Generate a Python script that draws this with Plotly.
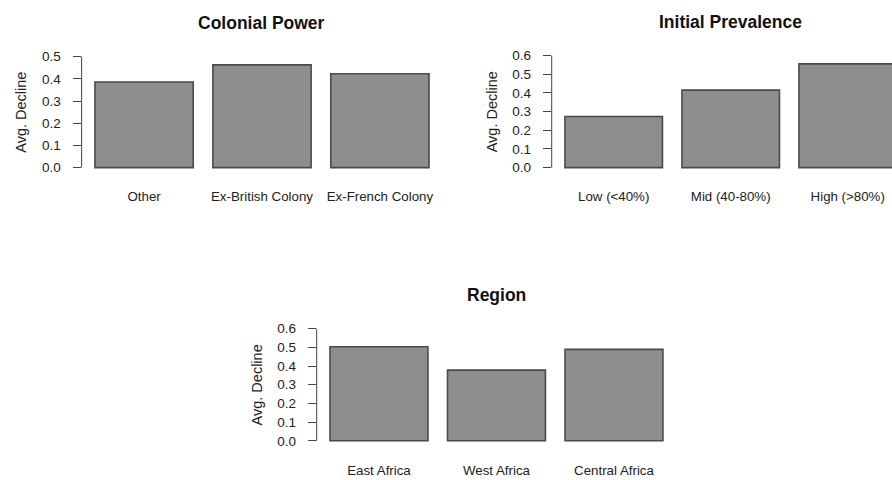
import plotly.graph_objects as go

# Average decline by grouping variable
colonial_cats = ["Other", "Ex-British Colony", "Ex-French Colony"]
colonial_vals = [0.386, 0.463, 0.423]

prev_cats = ["Low (<40%)", "Mid (40-80%)", "High (>80%)"]
prev_vals = [0.274, 0.415, 0.556]

region_cats = ["East Africa", "West Africa", "Central Africa"]
region_vals = [0.503, 0.378, 0.489]

ticks_05 = [0.0, 0.1, 0.2, 0.3, 0.4, 0.5]
ticks_06 = [0.0, 0.1, 0.2, 0.3, 0.4, 0.5, 0.6]

W, H = 892, 480
FONT = "Liberation Sans, Arial, Helvetica, sans-serif"
TXT = "#222222"
AX = "#444444"

# panel geometry in pixels: left edge, px per category, top/bottom of plot area
panels = [
    dict(title="Colonial Power", cats=colonial_cats, vals=colonial_vals, ticks=ticks_05,
         left=81.6, step=117.9, top=49.8, bottom=171.2),
    dict(title="Initial Prevalence", cats=prev_cats, vals=prev_vals, ticks=ticks_06,
         left=551.7, step=117.0, top=48.8, bottom=171.2),
    dict(title="Region", cats=region_cats, vals=region_vals, ticks=ticks_06,
         left=316.7, step=117.5, top=325.2, bottom=447.9),
]

fig = go.Figure()
shapes, annotations = [], []
layout = {}

for i, p in enumerate(panels, start=1):
    xa = "x" if i == 1 else f"x{i}"
    ya = "y" if i == 1 else f"y{i}"
    fig.add_trace(go.Bar(
        x=p["cats"], y=p["vals"], xaxis=xa, yaxis=ya,
        marker=dict(color="#8e8e8e", line=dict(color="#4a4a4a", width=1.6)),
        showlegend=False, hoverinfo="x+y",
    ))
    full_w = 3.06 * p["step"]
    right = min(p["left"] + full_w, W)
    xr_end = -0.53 + (right - p["left"]) / p["step"]
    ymax = p["ticks"][-1]
    pad = 0.04 * ymax
    layout["xaxis" if i == 1 else f"xaxis{i}"] = dict(
        domain=[p["left"] / W, right / W], range=[-0.53, xr_end],
        anchor=ya, showline=False, showgrid=False, zeroline=False,
        ticks="", ticklabelstandoff=15, type="category",
        tickfont=dict(family=FONT, size=13.3, color=TXT),
    )
    layout["yaxis" if i == 1 else f"yaxis{i}"] = dict(
        domain=[(H - p["bottom"]) / H, (H - p["top"]) / H], range=[-pad, ymax + pad],
        anchor=xa, showline=False, showgrid=False, zeroline=False,
        tickmode="array", tickvals=p["ticks"], ticktext=[f"{t:.1f}" for t in p["ticks"]],
        ticks="outside", ticklen=8, tickwidth=1, tickcolor=AX, ticklabelstandoff=9,
        tickfont=dict(family=FONT, size=13.5, color=TXT),
    )
    # y axis line spanning first to last tick
    shapes.append(dict(type="line", xref=f"{xa} domain", yref=ya, x0=0, x1=0,
                       y0=p["ticks"][0], y1=ymax, line=dict(color=AX, width=1)))
    # y axis title
    annotations.append(dict(text="Avg. Decline", xref=f"{xa} domain", yref=f"{ya} domain",
                            x=0, y=0.5, xshift=-60, textangle=-90, showarrow=False,
                            xanchor="center", yanchor="middle",
                            font=dict(family=FONT, size=14.5, color=TXT)))
    # panel title centred over the full plot region
    cx = p["left"] + full_w / 2
    annotations.append(dict(text=f"<b>{p['title']}</b>", xref="paper", yref="paper",
                            x=cx / W, y=(H - (p["top"] - 29.5)) / H, showarrow=False,
                            xanchor="center", yanchor="middle",
                            font=dict(family=FONT, size=17.5, color="#111111")))

fig.update_layout(
    width=W, height=H, margin=dict(l=0, r=0, t=0, b=0),
    paper_bgcolor="white", plot_bgcolor="white",
    bargap=1 - 1 / 1.2, shapes=shapes, annotations=annotations,
    **layout,
)

fig.write_html("out.html")
